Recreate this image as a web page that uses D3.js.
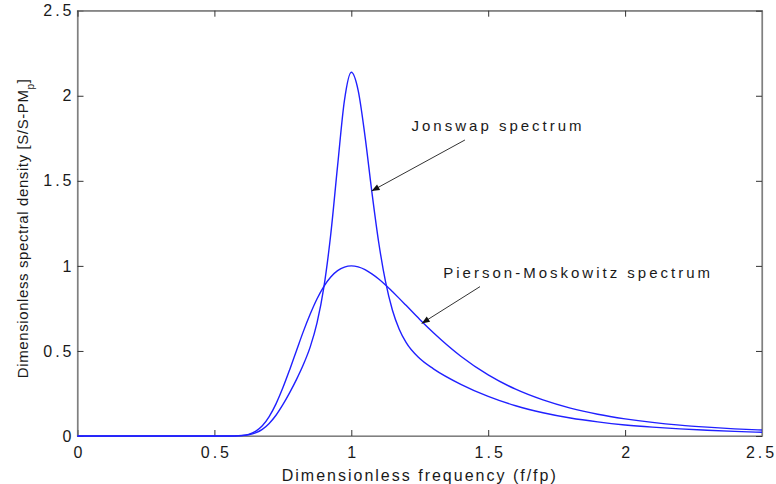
<!DOCTYPE html>
<html>
<head>
<meta charset="utf-8">
<script src="https://cdn.jsdelivr.net/npm/d3@7/dist/d3.min.js"></script>
<style>
body { margin: 0; background: #fff; }
text { font-family: Arial, "Liberation Sans", Helvetica, sans-serif; fill: #1a1a1a; }
</style>
</head>
<body>
<div id="chart"></div>
<script>
// values, dimensionless frequency f/fp
var freq = [0, 0.1, 0.2, 0.3, 0.4, 0.5, 0.55,
  0.6, 0.625, 0.65, 0.675, 0.7, 0.725, 0.75, 0.775, 0.8, 0.825, 0.85, 0.875, 0.9, 0.925, 0.95, 0.975,
  1.0, 1.025, 1.05, 1.075, 1.1, 1.125, 1.15, 1.175, 1.2,
  1.25, 1.3,
  1.4, 1.5, 1.6, 1.7, 1.8, 1.9, 2.0, 2.1, 2.2, 2.3, 2.4, 2.5];

var pmValues = [0, 0, 0, 0, 0, 0, 0,
  0.003, 0.010, 0.027, 0.060, 0.114, 0.189, 0.283, 0.390, 0.503, 0.615, 0.717, 0.807, 0.880, 0.935, 0.972, 0.993,
  1.000, 0.994, 0.978, 0.953, 0.923, 0.888, 0.849, 0.809, 0.768,
  0.685, 0.607,
  0.469, 0.359, 0.275, 0.212, 0.164, 0.128, 0.101, 0.080, 0.064, 0.052, 0.042, 0.035];

var jonswapValues = [0, 0, 0, 0, 0, 0, 0,
  0.002, 0.007, 0.018, 0.039, 0.074, 0.122, 0.184, 0.255, 0.333, 0.420, 0.524, 0.666, 0.876, 1.186, 1.589, 1.973,
  2.138, 2.032, 1.763, 1.436, 1.139, 0.907, 0.741, 0.628, 0.550,
  0.455, 0.395,
  0.304, 0.233, 0.178, 0.137, 0.106, 0.083, 0.065, 0.052, 0.042, 0.034, 0.027, 0.022];

var xTicks = [0, 0.5, 1, 1.5, 2, 2.5];
var yTicks = [0, 0.5, 1, 1.5, 2, 2.5];

// labels with arrows, in data units
var notes = [
  { label: "Jonswap spectrum", tx: 1.22, ty: 1.795, x1: 1.415, y1: 1.74, x2: 1.074, y2: 1.44 },
  { label: "Pierson-Moskowitz spectrum", tx: 1.336, ty: 0.927, x1: 1.47, y1: 0.878, x2: 1.257, y2: 0.662 }
];

var W = 776, H = 484;
var margin = { top: 10.7, right: 14, bottom: 48, left: 77.5 },
  width = W - margin.left - margin.right,
  height = H - margin.top - margin.bottom;

var svg = d3.select("#chart").append("svg")
  .attr("width", W)
  .attr("height", H);

var g = svg.append("g")
  .attr("transform", "translate(" + margin.left + "," + margin.top + ")");

var x = d3.scaleLinear().domain([0, 2.5]).range([0, width]);
var y = d3.scaleLinear().domain([0, 2.5]).range([height, 0]);

// box
g.append("rect")
  .attr("width", width)
  .attr("height", height)
  .attr("fill", "none")
  .attr("stroke", "#808080")
  .attr("stroke-width", 1.2);

function styleAxis(sel) {
  sel.select(".domain").attr("stroke", "#808080").attr("stroke-width", 1.2);
  sel.selectAll(".tick line").attr("stroke", "#333");
  sel.selectAll("text").style("font-size", "16px").style("letter-spacing", "3px").attr("fill", "#1a1a1a");
}

var xAxis = g.append("g")
  .attr("transform", "translate(0," + height + ")")
  .call(d3.axisBottom(x).tickValues(xTicks).tickFormat(d3.format("")).tickSizeInner(-6).tickSizeOuter(0).tickPadding(11));
styleAxis(xAxis);
xAxis.selectAll("text").attr("dx", function (d) { return d === 2.5 ? "-1px" : "1.5px"; });

var yAxis = g.append("g")
  .call(d3.axisLeft(y).tickValues(yTicks).tickFormat(d3.format("")).tickSizeInner(-6).tickSizeOuter(0).tickPadding(3));
styleAxis(yAxis);

var topAxis = g.append("g")
  .call(d3.axisTop(x).tickValues(xTicks).tickFormat("").tickSizeInner(-6).tickSizeOuter(0));
styleAxis(topAxis);

var rightAxis = g.append("g")
  .attr("transform", "translate(" + width + ",0)")
  .call(d3.axisRight(y).tickValues(yTicks).tickFormat("").tickSizeInner(-6).tickSizeOuter(0));
styleAxis(rightAxis);

// spectra
var line = d3.line()
  .x(function (d) { return x(d[0]); })
  .y(function (d) { return y(d[1]); })
  .curve(d3.curveMonotoneX);

[pmValues, jonswapValues].forEach(function (vals) {
  g.append("path")
    .datum(freq.map(function (f, i) { return [f, vals[i]]; }))
    .attr("fill", "none")
    .attr("stroke", "#2020ff")
    .attr("stroke-width", 1.4)
    .attr("d", line);
});

// arrow head
svg.append("defs").append("marker")
  .attr("id", "head")
  .attr("viewBox", "0 0 10 10")
  .attr("refX", 10)
  .attr("refY", 5)
  .attr("markerWidth", 10)
  .attr("markerHeight", 8)
  .attr("markerUnits", "userSpaceOnUse")
  .attr("orient", "auto")
  .append("path")
  .attr("d", "M0,1 L10,5 L0,9 Z")
  .attr("fill", "#111");

notes.forEach(function (n) {
  g.append("line")
    .attr("x1", x(n.x1)).attr("y1", y(n.y1))
    .attr("x2", x(n.x2)).attr("y2", y(n.y2))
    .attr("stroke", "#333")
    .attr("stroke-width", 1)
    .attr("marker-end", "url(#head)");
  g.append("text")
    .attr("x", x(n.tx))
    .attr("y", y(n.ty))
    .style("font-size", "15px")
    .style("letter-spacing", "3px")
    .text(n.label);
});

// axis titles
svg.append("text")
  .attr("x", margin.left + width / 2)
  .attr("y", 481)
  .attr("text-anchor", "middle")
  .style("font-size", "16px")
  .style("letter-spacing", "2px")
  .text("Dimensionless frequency (f/fp)");

var ylab = svg.append("text")
  .attr("transform", "translate(28," + (margin.top + height / 2 + 5) + ") rotate(-90)")
  .attr("text-anchor", "middle")
  .style("font-size", "15px")
  .style("letter-spacing", "0.6px");
ylab.append("tspan").text("Dimensionless spectral density [S/S-PM");
ylab.append("tspan").attr("baseline-shift", "sub").style("font-size", "10px").text("p");
ylab.append("tspan").text("]");
</script>
</body>
</html>
